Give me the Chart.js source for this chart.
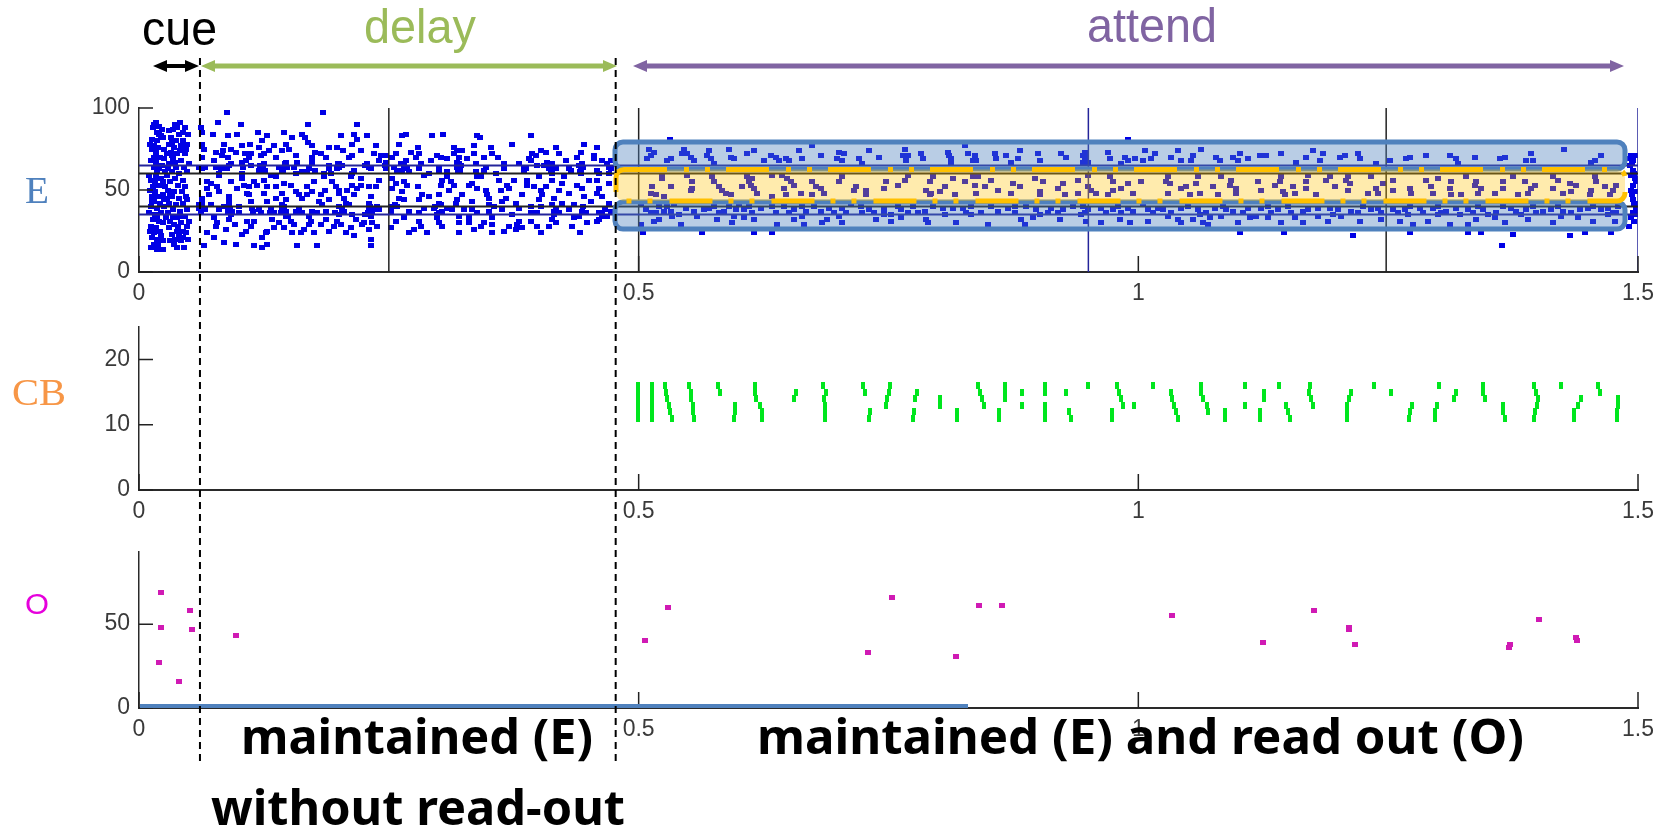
<!DOCTYPE html>
<html lang="en">
<head>
<meta charset="UTF-8">
<title>Spike rasters: cue, delay, attend</title>
<script src="https://cdn.jsdelivr.net/npm/chart.js@4/dist/chart.umd.min.js"></script>
<style>
    body { margin: 0; background: #fff; }
    #page { position: relative; width: 1664px; height: 831px; overflow: hidden; }
    canvas { position: absolute; left: 0; }
    svg { position: absolute; left: 0; top: 0; }
</style>
</head>
<body>
<div id="page">
    <canvas id="panelE"></canvas>
    <canvas id="panelCB"></canvas>
    <canvas id="panelO"></canvas>
    <svg id="overlay" width="1664" height="831"></svg>
</div>
<script>
// spikes: [time in ms, neuron index]
const eCue = [[17,91],[20,89],[15,90],[23,87],[18,85],[22,83],[13,81],[18,80],[15,77],[13,75],[17,73],[25,75],[15,70],[28,72],[33,71],[17,67],[15,64],[20,63],[23,65],[18,61],[12,56],[16,55],[22,57],[14,52],[20,53],[11,50],[16,49],[26,52],[13,46],[19,46],[24,47],[15,43],[21,42],[12,40],[18,39],[25,40],[10,36],[16,35],[22,36],[14,32],[20,31],[27,33],[12,28],[17,27],[15,24],[21,25],[13,21],[18,20],[22,22],[15,17],[12,15],[18,14],[24,14],
[41,91],[36,90],[46,88],[34,87],[40,84],[49,84],[32,82],[37,80],[44,80],[30,78],[35,76],[42,77],[48,78],[32,73],[38,72],[46,72],[34,69],[42,68],[50,66],[30,66],[37,64],[45,64],[33,61],[40,60],[28,59],[36,57],[44,56],[31,55],[39,53],[46,52],[29,50],[35,49],[43,49],[33,46],[40,45],[47,46],[30,42],[37,41],[44,42],[34,38],[41,37],[29,36],[38,33],[46,34],[31,31],[35,29],[42,30],[48,28],[30,27],[38,25],[44,25],[33,23],[40,22],[47,24],[36,20],[42,19],[49,20],[38,15],[35,17],[45,15],
[14,88],[20,84],[11,78],[24,82],[19,76],[21,70],[12,68],[25,69],[26,61],[10,59],[17,58],[24,55],[13,43],[25,44],[18,33],[24,30],[11,25],[24,19],[19,17],[30,86],[44,85],[38,88],[33,79],[47,75],[41,74],[36,67],[48,61],[31,48],[48,44],[42,34],[34,33],[44,21],[31,19],[39,28],[48,38],[50,31],[28,45],[29,63]];
const eDelayA = [[88,97],[184,97],[79,91],[102,90],[169,90],[218,90],[62,88],[63,85],[74,84],[89,83],[98,84],[119,85],[123,80],[128,83],[145,85],[153,82],[163,84],[166,82],[169,79],[173,77],[202,83],[215,84],[218,81],[228,83],[213,78],[63,78],[85,78],[103,77],[111,78],[120,76],[135,77],[147,78],[143,74],[198,76],[237,77],[65,75],[77,73],[83,71],[97,73],[106,72],[125,72],[122,71],[157,71],[182,72],[187,70],[210,70],[213,71],[235,72],[242,71],[247,71],[63,70],[89,70],[137,70],[173,70],[110,70],[107,68],[75,68],[103,67],[90,65],[125,66],[147,67],[158,67],[173,67],[200,66],[228,66],[247,67],[77,64],[63,63],[122,64],[145,64],[170,63],[190,63],[200,64],[230,64],[247,63],
[80,60],[103,60],[120,62],[143,61],[163,61],[185,60],[213,60],[132,59],[103,57],[80,59],[185,58],[157,60],[137,58],[222,57],[212,58],[68,55],[125,56],[115,55],[92,55],[145,54],[168,52],[175,55],[193,55],[197,52],[72,54],[78,52],[213,53],[222,53],[240,56],[68,51],[80,49],[98,51],[110,52],[118,53],[128,52],[137,52],[157,49],[173,49],[200,50],[230,52],[237,52],[108,48],[125,48],[143,48],[160,47],[200,48],[218,51],[110,47],[90,46],[163,45],[168,47],[182,47],[232,46],[63,45],[137,45],[147,44],[205,45],[190,44],[180,43],[90,44],[112,43],[128,43],
[63,42],[90,42],[113,39],[143,41],[183,41],[207,42],[230,42],[80,38],[93,37],[132,39],[143,38],[157,37],[163,36],[173,37],[187,37],[203,38],[230,38],[238,40],[60,39],[122,36],[135,36],[200,35],[100,36],[75,33],[90,32],[133,32],[147,34],[152,31],[187,32],[217,32],[232,34],[108,31],[115,31],[172,31],[198,31],[233,30],[78,30],[77,28],[112,28],[140,30],[155,29],[170,29],[182,29],[202,29],[223,29],[238,28],[87,26],[107,25],[128,25],[145,27],[175,24],[190,25],[212,27],[230,26],[68,24],[103,23],[127,24],[153,24],[162,24],[207,24],[75,21],[123,21],[215,22],[232,20],[85,18],[97,17],[128,17],[158,16],[178,16],[65,16],[115,16],[123,15],[232,16]];
const eDelayB = [[267,84],[263,83],[293,83],[304,84],[338,83],[341,82],[392,83],[260,78],[279,76],[315,76],[318,74],[335,77],[352,76],[373,78],[417,76],[445,78],[458,76],[407,73],[442,73],[353,72],[335,72],[315,72],[323,74],[280,72],[277,70],[298,71],[302,70],[257,72],[253,70],[393,72],[397,71],[390,69],[420,72],[427,68],[455,71],[463,68],[328,69],[359,70],[292,68],[267,68],[320,70],[320,66],[337,66],[365,66],[380,66],[392,68],[408,67],[443,66],[455,69],[472,68],[265,65],[318,64],[282,66],[300,64],[255,64],[347,64],[413,66],[417,63],[470,64],[442,63],[387,63],[263,62],[398,65],
[270,61],[290,60],[308,61],[337,61],[385,61],[413,60],[442,60],[460,60],[357,60],[432,62],[285,59],[308,58],[338,58],[400,58],[425,58],[253,57],[458,56],[360,56],[375,56],[388,56],[303,56],[312,55],[265,55],[333,54],[413,56],[438,53],[450,56],[257,54],[268,53],[302,53],[315,53],[330,53],[368,53],[388,53],[407,52],[423,54],[470,54],[338,51],[279,52],[253,51],[347,50],[362,50],[370,51],[402,50],[420,50],[443,51],[460,51],[263,49],[300,47],[283,47],[348,47],[383,47],[403,47],[430,48],[458,48],[323,47],[260,45],[290,46],[400,44],[415,45],[350,45],[367,45],[463,46],[318,44],[280,44],[265,44],
[300,42],[317,42],[333,43],[377,42],[423,42],[452,43],[470,42],[363,43],[435,41],[350,41],[258,40],[295,39],[313,38],[252,37],[270,37],[280,36],[300,36],[333,38],[363,38],[392,36],[415,37],[443,37],[463,36],[265,33],[320,34],[330,33],[353,33],[373,35],[398,36],[420,36],[413,32],[435,33],[460,32],[463,34],[298,33],[280,31],[257,31],[300,30],[345,30],[320,30],[380,31],[392,31],[417,30],[458,31],[282,28],[252,27],[303,28],[342,28],[335,26],[353,29],[378,29],[398,28],[433,28],[383,27],[275,26],[270,24],[288,24],[320,24],[353,24],[365,25],[377,26],[402,24],[441,24]];
// the clumps around the horizontal guide lines, delay period
const eDelayClumps = [[88,63],[92,66],[121,65],[124,64],[126,62],[146,66],[144,62],[148,64],[199,66],[203,65],[198,63],[226,65],[232,63],[246,65],[190,65],[168,61],[60,64],[66,64],[104,64],[176,62],[155,64],[82,63],[140,64],[112,65],[192,60],[215,62],
[91,39],[89,37],[92,35],[114,37],[131,36],[145,40],[142,36],[147,37],[149,34],[231,40],[229,36],[233,37],[235,38],[205,37],[200,40],[210,41],[196,36],[120,38],[170,34],[178,36],[62,37],[60,41],[66,38],[72,41],[85,40],[100,40],[160,39],[240,38],[226,35],[213,35],
[262,66],[266,63],[268,64],[318,67],[321,62],[322,65],[319,61],[405,65],[410,63],[412,62],[414,64],[440,65],[444,64],[441,61],[468,66],[472,63],[470,60],[345,62],[300,61],[385,64],[365,63],[258,62],[280,63],[430,63],[458,62],
[252,40],[256,41],[296,40],[302,41],[298,35],[303,37],[338,36],[350,37],[380,39],[415,35],[413,41],[417,39],[444,40],[447,36],[440,34],[460,36],[466,38],[472,37],[468,34],[308,39],[325,38],[355,40],[285,39],[392,40],[430,38],[402,40],
[84,74],[92,75],[112,72],[130,74],[150,75],[176,73],[190,76],[204,74],[222,74],[240,68],[105,53],[152,53],[186,50],[208,50],[215,47],[70,47],[96,29],[135,27],[165,26],[195,28],[225,30],[272,73],[308,69],[345,70],[402,74],[438,70],[330,30],[370,28],[410,28],[448,30],[310,50],[395,52],[445,46],[342,58]];
const eAttendA = [[510,75],[515,73],[512,71],[508,69],[532,69],[528,68],[545,75],[548,72],[552,70],[555,68],[543,72],[570,74],[568,71],[572,69],[575,66],[590,75],[592,70],[595,69],[608,72],[615,74],[625,68],[632,71],[637,70],[640,68],[647,69],[650,68],[660,74],[663,69],[682,71],[700,73],[705,72],[698,69],[703,68],[720,69],[730,74],[723,66],[673,77],[740,70],
[523,59],[523,57],[548,59],[573,58],[553,55],[575,55],[513,52],[532,52],[553,51],[580,52],[512,48],[517,47],[552,50],[583,50],[587,48],[592,47],[525,46],[608,58],[613,57],[610,55],[603,52],[612,53],[615,51],[618,48],[633,59],[643,59],[648,57],[652,55],[655,53],[645,51],[647,47],[633,46],[662,48],[673,55],[677,52],[682,51],[685,48],[673,47],[703,58],[700,55],[717,52],[715,50],[727,50],[727,47],[747,55],[745,51],
[502,41],[512,36],[517,36],[528,40],[532,37],[533,34],[520,32],[542,29],[555,37],[565,38],[575,40],[580,36],[590,40],[597,38],[595,34],[610,40],[613,36],[633,40],[637,36],[615,32],[650,36],[663,40],[667,37],[663,34],[682,37],[688,32],[703,39],[707,36],[722,40],[723,36],[703,30],[737,32],[745,38],[745,35],[502,29],[515,31],[578,32],[558,34],[593,30],[665,29],[638,29],[547,39],[507,38],[683,30],[504,24],[563,24],[615,24],[633,24],[531,81],
[520,40],[535,41],[525,37],[570,39],[585,37],[600,41],[605,38],[622,39],[645,40],[655,38],[675,40],[690,39],[695,36],[712,41],[730,38],[735,36],[540,35],[605,33],[655,32],[700,34]];
const eAttendB = [[767,75],[765,71],[770,71],[768,68],[783,72],[785,69],[810,73],[813,69],[813,66],[827,77],[830,72],[837,71],[838,68],[857,72],[858,69],[868,71],[882,74],[880,69],[873,67],[900,72],[902,68],[923,72],[928,70],[947,73],[948,70],[945,67],[970,73],[972,69],[987,70],[990,68],[990,81],[997,69],[983,66],
[770,59],[767,56],[795,58],[815,57],[835,58],[840,58],[853,56],[897,57],[792,55],[827,55],[875,54],[905,55],[940,56],[950,59],[972,58],[975,55],[760,53],[788,50],[807,52],[802,49],[837,53],[847,52],[882,52],[925,54],[920,51],[950,52],[953,50],[975,50],[990,54],[983,51],[793,48],[792,47],[817,47],[838,48],[860,50],[873,48],[902,49],[902,47],[927,47],[940,48],[958,48],[970,47],[995,48],
[763,38],[770,36],[787,37],[795,40],[815,39],[833,40],[843,36],[853,40],[877,40],[877,36],[898,38],[913,39],[945,40],[947,36],[963,39],[990,39],[753,31],[763,33],[788,32],[790,30],[818,30],[850,29],[883,32],[887,29],[922,32],[948,31],[963,30],[982,32],[992,30],[753,35],[807,35],[833,35],[902,35],[920,36],[968,36],[983,36],
[760,40],[775,40],[780,36],[805,39],[825,39],[828,36],[860,37],[870,39],[888,40],[910,36],[925,38],[935,40],[950,38],[943,35],[975,38],[980,40],[995,37],[895,33],[811,71],[835,68],[947,69],[950,67],[945,71]];
const eAttendC = [[1007,74],[1017,72],[1013,69],[1033,70],[1040,74],[1043,68],[1055,71],[1063,75],[1053,68],[1078,70],[1082,68],[1095,70],[1102,72],[1110,69],[1122,71],[1128,71],[1143,72],[1168,70],[1175,74],[1158,67],[1182,68],[1185,72],[1202,70],[1207,71],[1220,72],[1222,69],[1238,66],[1005,68],[1100,68],
[1030,58],[1028,55],[1060,58],[1058,54],[1083,58],[1093,56],[1120,55],[1143,58],[1170,59],[1168,55],[1192,58],[1188,56],[1208,56],[1210,58],[1233,58],[1003,55],[1032,54],[1048,52],[1043,51],[1075,52],[1092,53],[1098,51],[1137,53],[1142,55],[1155,52],[1168,51],[1197,52],[1212,54],[1245,54],[1238,51],[1030,48],[1052,47],[1062,48],[1080,47],[1098,48],[1123,50],[1145,49],[1157,48],[1147,47],[1178,47],[1210,50],[1230,48],[1240,48],
[1010,38],[1020,39],[1033,36],[1043,39],[1060,38],[1062,35],[1077,39],[1088,38],[1105,36],[1123,39],[1133,36],[1153,36],[1170,38],[1192,39],[1213,37],[1233,38],[1243,36],[1010,31],[1040,32],[1065,30],[1043,30],[1100,30],[1112,33],[1143,30],[1165,30],[1190,31],[1222,31],[1243,32],[1030,34],[1083,34],[1118,34],[1203,34],[1055,32],[1072,33],[1157,33],[1180,34],[1102,24],[1146,24],[1215,22],
[1005,41],[1015,36],[1025,38],[1050,40],[1068,36],[1085,40],[1095,37],[1110,39],[1130,40],[1140,38],[1150,40],[1165,37],[1180,39],[1200,38],[1220,36],[1225,40],[1240,39],[1195,35],[1130,33],[1070,29]];
const eAttendD = [[1272,70],[1268,69],[1288,71],[1312,71],[1318,69],[1320,66],[1337,70],[1362,69],[1367,70],[1393,72],[1388,68],[1395,68],[1426,75],[1463,71],[1457,68],[1453,67],[1252,68],
[1255,56],[1272,51],[1273,48],[1255,50],[1288,56],[1293,52],[1300,57],[1313,55],[1312,51],[1295,48],[1313,47],[1328,58],[1338,55],[1343,51],[1337,53],[1357,48],[1365,55],[1365,51],[1375,58],[1387,55],[1397,53],[1393,51],[1380,47],[1390,48],[1415,58],[1420,56],[1415,51],[1425,48],[1432,54],[1438,53],[1433,49],[1457,58],[1458,55],[1453,50],[1467,52],[1478,53],[1475,50],[1472,47],[1452,47],[1340,48],[1323,47],
[1255,38],[1267,38],[1282,39],[1295,39],[1308,37],[1330,38],[1345,38],[1358,36],[1373,39],[1388,38],[1398,36],[1413,38],[1433,36],[1450,39],[1463,38],[1478,36],[1262,31],[1275,29],[1290,31],[1312,29],[1330,29],[1338,32],[1357,33],[1367,30],[1390,32],[1415,30],[1440,33],[1455,31],[1477,31],[1270,35],[1300,35],[1322,35],[1383,35],[1423,34],[1470,35],
[1260,36],[1272,40],[1285,36],[1300,40],[1303,36],[1318,39],[1335,36],[1340,40],[1350,35],[1365,40],[1378,37],[1395,40],[1405,37],[1420,40],[1425,37],[1442,38],[1455,40],[1470,39],[1475,36],[1480,40],
[1272,24],[1330,24],[1343,24],[1375,23],[1447,24],[1473,24],[1432,22],[1364,16],
[1493,71],[1497,71],[1495,68],[1492,65],[1495,62],[1493,59],[1497,57],[1495,53],[1493,50],[1497,49],[1495,44],[1496,41],[1495,36],[1493,33],[1491,28],[1497,35],[1494,66],[1496,60],[1498,55],[1494,47],[1497,42],[1498,38],[1496,31],[1492,69]];
const cbSpikes = [[499,16],[499,15],[499,14],[499,13],[499,12],[499,11],[513,16],[513,15],[513,14],[513,13],[513,12],[513,11],[526,16],[527,15],[528,14],[530,13],[531,12],[533,11],[550,16],[552,15],[552,14],[554,13],[554,12],[555,11],[579,16],[581,15],[596,13],[596,12],[595,11],[616,16],[616,15],[617,14],[621,13],[623,12],[623,11],[657,15],[655,14],[684,16],[687,15],[685,14],[686,13],[686,12],[686,11],[724,16],[726,15],[731,12],[730,11],[752,16],[750,15],[748,14],[747,13],[779,15],[777,14],[776,12],[775,11],[802,14],[802,13],[819,12],[819,11],[840,16],[842,15],[844,14],[846,13],[867,16],[867,15],[867,14],[861,12],[861,11],[884,15],[884,13],[907,16],[907,15],[907,13],[907,12],[907,11],[928,15],[931,12],[933,11],[950,16],[979,16],[981,15],[983,14],[985,13],[974,12],[974,11],[996,13],[1015,16],[1033,15],[1034,14],[1036,13],[1038,12],[1040,11],[1063,16],[1063,15],[1065,14],[1069,13],[1070,12],[1087,12],[1087,11],[1107,16],[1107,13],[1126,15],[1126,14],[1122,12],[1122,11],[1141,16],[1148,13],[1150,12],[1152,11],[1172,16],[1171,15],[1173,14],[1175,13],[1213,15],[1211,14],[1209,13],[1209,12],[1209,11],[1236,16],[1253,15],[1274,13],[1272,12],[1271,11],[1301,16],[1318,15],[1316,14],[1299,13],[1297,12],[1297,11],[1345,16],[1345,15],[1347,14],[1365,13],[1365,12],[1367,11],[1396,16],[1398,15],[1400,14],[1399,13],[1397,12],[1396,11],[1423,16],[1443,14],[1440,13],[1436,12],[1436,11],[1460,16],[1462,15],[1480,14],[1480,13],[1479,12],[1479,11]];
const oSpikes = [[22,69],[51,58],[22,48],[53,47],[20,27],[40,16],[97,43],[506,40],[529,60],[754,66],[729,33],[841,61],[864,61],[818,31],[1034,55],[1125,39],[1176,58],[1211,48],[1211,47],[1217,38],[1372,38],[1371,36],[1401,53],[1438,42],[1439,40]];

const xTicks = [0, 500, 1000, 1500];
const eTicks = [0, 50, 100];
const cbTicks = [0, 10, 20];
const oTicks = [0, 50];
const eRowLines = [65, 60, 40, 35];
const eColLines = [250, 500, 950, 1248, 1500];
const cueEnd = 61, delayEnd = 477;

// little rectangles, raster dots are not square
function dot(w, h, color) {
    const c = document.createElement('canvas');
    c.width = w; c.height = h;
    const g = c.getContext('2d');
    g.fillStyle = color;
    g.fillRect(0, 0, w, h);
    return c;
}

const toPoints = list => list.map(p => ({x: p[0], y: p[1]}));

// matlab style ticks, pointing into the plot
const inwardTicks = {
    id: 'inwardTicks',
    afterDraw(chart) {
        const {ctx, chartArea, scales} = chart;
        ctx.save();
        ctx.strokeStyle = '#222';
        ctx.lineWidth = 1.5;
        ctx.beginPath();
        scales.x.ticks.forEach(t => {
            const px = scales.x.getPixelForValue(t.value);
            ctx.moveTo(px, chartArea.bottom);
            ctx.lineTo(px, chartArea.bottom - 16);
        });
        scales.y.ticks.forEach(t => {
            const py = scales.y.getPixelForValue(t.value);
            ctx.moveTo(chartArea.left, py);
            ctx.lineTo(chartArea.left + 14, py);
        });
        ctx.stroke();
        ctx.restore();
    }
};

function makePanel(id, plotTop, plotBottom, yMax, yTicks, datasets) {
    const canvas = document.getElementById(id);
    const padTop = 12, axisH = 48;
    canvas.width = 1664;
    canvas.height = plotBottom - plotTop + padTop + axisH;
    canvas.style.top = (plotTop - padTop) + 'px';
    const tickFont = {family: '"Liberation Sans"', size: 23};
    return new Chart(canvas, {
        type: 'scatter',
        data: {datasets: datasets},
        options: {
            responsive: false,
            animation: false,
            layout: {padding: {top: padTop, left: 0, right: 26, bottom: 0}},
            plugins: {legend: {display: false}, tooltip: {enabled: false}},
            scales: {
                x: {
                    type: 'linear', min: 0, max: 1500,
                    afterBuildTicks: s => { s.ticks = xTicks.map(v => ({value: v})); },
                    // keep the plot box where it is, labels may hang over it
                    afterFit: s => { s.height = axisH; s.paddingLeft = 0; s.paddingRight = 0; },
                    grid: {display: false},
                    border: {color: '#2a2a2a', width: 2},
                    ticks: {font: tickFont, color: '#3a3a3a', padding: 0, maxRotation: 0, autoSkip: false, callback: v => String(v / 1000)}
                },
                y: {
                    type: 'linear', min: 0, max: yMax,
                    afterBuildTicks: s => { s.ticks = yTicks.map(v => ({value: v})); },
                    afterFit: s => { s.width = 139; s.paddingTop = 0; s.paddingBottom = 0; },
                    grid: {display: false},
                    border: {color: '#2a2a2a', width: 1.5},
                    ticks: {font: tickFont, color: '#3a3a3a', padding: 1, autoSkip: false}
                }
            }
        },
        plugins: [inwardTicks]
    });
}

const eSpikes = [].concat(eCue, eDelayA, eDelayB, eDelayClumps, eAttendA, eAttendB, eAttendC, eAttendD);
const lineSets = [];
eRowLines.forEach(v => lineSets.push({
    data: [{x: 0, y: v}, {x: 1500, y: v}], showLine: true, pointRadius: 0,
    borderColor: (v === 65 || v === 35) ? '#24249a' : '#222', borderWidth: 2
}));
eColLines.forEach(t => lineSets.push({
    data: [{x: t, y: 0}, {x: t, y: 100}], showLine: true, pointRadius: 0,
    borderColor: (t === 950 || t === 1500) ? '#24249a' : '#222', borderWidth: 1.5
}));

const chartE = makePanel('panelE', 108, 272, 100, eTicks, lineSets.concat([{
    data: toPoints(eSpikes), pointStyle: dot(6, 5, '#0000e6'), pointRadius: 3
}]));
makePanel('panelCB', 327, 490, 25, cbTicks, [{
    data: toPoints(cbSpikes), pointStyle: dot(4, 7, '#00e61e'), pointRadius: 3
}]);
makePanel('panelO', 552, 708, 93, oTicks, [{
    data: toPoints(oSpikes), pointStyle: dot(6, 5, '#d01ab4'), pointRadius: 3
}]);

// everything drawn on top of the charts: arrows, boxes, captions
const NS = 'http://www.w3.org/2000/svg';
const overlay = document.getElementById('overlay');
function add(tag, attrs, text) {
    const el = document.createElementNS(NS, tag);
    Object.keys(attrs).forEach(k => el.setAttribute(k, attrs[k]));
    if (text) el.textContent = text;
    overlay.appendChild(el);
    return el;
}
function arrow(x1, x2, y, color, w) {
    add('line', {x1: x1 + 8, y1: y, x2: x2 - 8, y2: y, stroke: color, 'stroke-width': w});
    add('polygon', {points: `${x2},${y} ${x2 - 14},${y - 6} ${x2 - 14},${y + 6}`, fill: color});
    add('polygon', {points: `${x1},${y} ${x1 + 14},${y - 6} ${x1 + 14},${y + 6}`, fill: color});
}
const px = t => chartE.scales.x.getPixelForValue(t);

// shaded regions of the E panel
const boxBlue = '#4f81bd';
[[142, 27], [202, 27]].forEach(b => add('rect', {
    x: 615, y: b[0], width: 1010, height: b[1], rx: 8,
    fill: boxBlue, 'fill-opacity': 0.4, stroke: boxBlue, 'stroke-width': 5
}));
add('rect', {
    x: 616, y: 169.5, width: 1009, height: 31.5, rx: 8,
    fill: '#ffc000', 'fill-opacity': 0.32, stroke: '#ffc000', 'stroke-width': 5,
    'stroke-dasharray': '43 17 5 16 5 16'
});

add('line', {x1: 140, y1: 706, x2: 968, y2: 706, stroke: boxBlue, 'stroke-width': 4});
[cueEnd, delayEnd].forEach(t => add('line', {
    x1: px(t), y1: 58, x2: px(t), y2: 765, stroke: '#000', 'stroke-width': 2, 'stroke-dasharray': '7 5'
}));

arrow(153, 199, 66, '#000', 4);
arrow(201, 617, 66, '#9bbb59', 5);
arrow(633, 1624, 66, '#8064a2', 5);

const sans = '"Liberation Sans"';
add('text', {x: 142, y: 45, 'font-family': sans, 'font-size': 48, fill: '#000', textLength: 75, lengthAdjust: 'spacingAndGlyphs'}, 'cue');
add('text', {x: 364, y: 43, 'font-family': sans, 'font-size': 49, fill: '#9bbb59', textLength: 112, lengthAdjust: 'spacingAndGlyphs'}, 'delay');
add('text', {x: 1087, y: 42, 'font-family': sans, 'font-size': 49, fill: '#8064a2', textLength: 130, lengthAdjust: 'spacingAndGlyphs'}, 'attend');

const serif = '"Liberation Serif"';
add('text', {x: 25, y: 203, 'font-family': serif, 'font-size': 38, fill: '#4f81bd', textLength: 24, lengthAdjust: 'spacingAndGlyphs'}, 'E');
add('text', {x: 12, y: 405, 'font-family': serif, 'font-size': 38, fill: '#f79646', textLength: 54, lengthAdjust: 'spacingAndGlyphs'}, 'CB');
add('text', {x: 25, y: 614, 'font-family': sans, 'font-size': 29, fill: '#e600dc', textLength: 24, lengthAdjust: 'spacingAndGlyphs'}, 'O');

const bold = '"Noto Sans"';
const caption = {'font-family': bold, 'font-weight': 700, 'font-size': 49, fill: '#000', lengthAdjust: 'spacingAndGlyphs'};
add('text', Object.assign({x: 241, y: 754, textLength: 352}, caption), 'maintained (E)');
add('text', Object.assign({x: 211, y: 825, textLength: 414}, caption), 'without read-out');
add('text', Object.assign({x: 757, y: 754, textLength: 767}, caption), 'maintained (E) and read out (O)');
</script>
</body>
</html>
